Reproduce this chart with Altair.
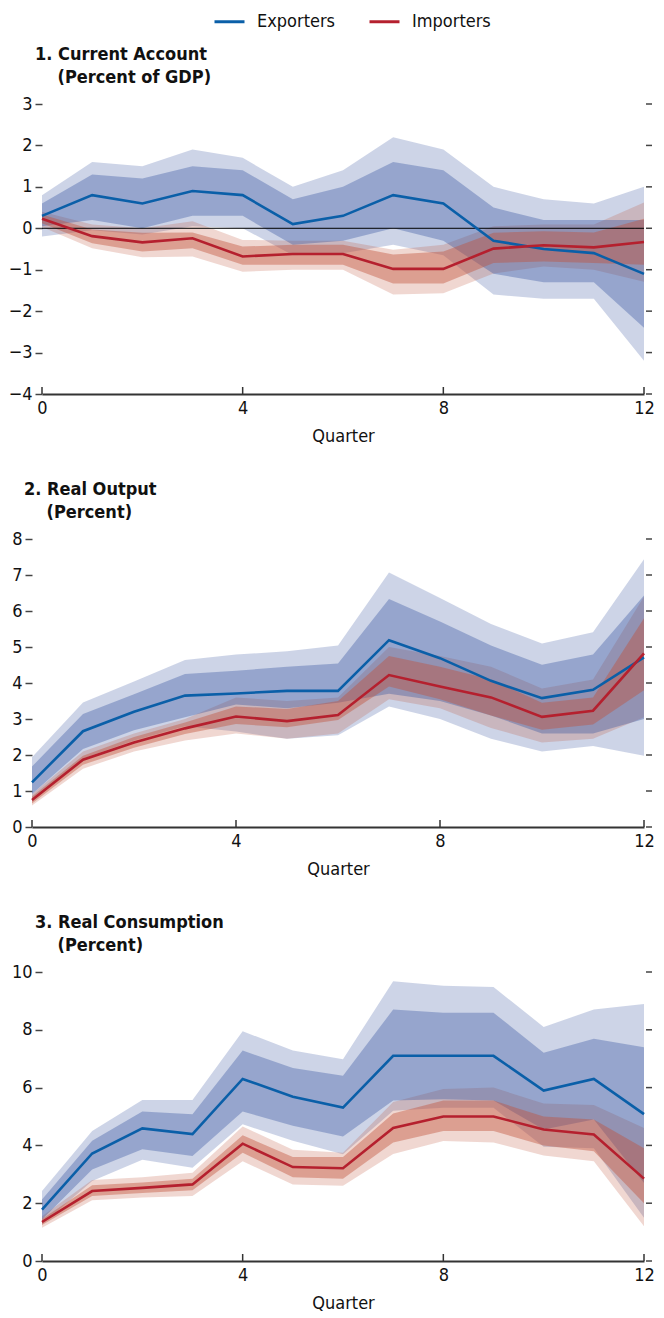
import altair as alt
import pandas as pd

# ---------------- data ----------------
quarters = list(range(13))
series_names = ["Exporters", "Importers"]
x_ticks = [0, 4, 8, 12]

# Panel 1: Current account (percent of GDP)
ca_exp_mid = [0.30, 0.80, 0.60, 0.90, 0.80, 0.10, 0.30, 0.80, 0.60, -0.30, -0.50, -0.60, -1.10]
ca_exp_hi90 = [0.80, 1.60, 1.50, 1.90, 1.70, 1.00, 1.40, 2.20, 1.90, 1.00, 0.70, 0.60, 1.00]
ca_exp_hi68 = [0.60, 1.30, 1.20, 1.50, 1.40, 0.70, 1.00, 1.60, 1.40, 0.50, 0.20, 0.20, 0.20]
ca_exp_lo68 = [0.05, 0.20, 0.00, 0.30, 0.30, -0.40, -0.30, 0.00, -0.30, -1.10, -1.30, -1.30, -2.40]
ca_exp_lo90 = [-0.20, -0.05, -0.15, 0.05, 0.00, -0.65, -0.60, -0.40, -0.65, -1.60, -1.70, -1.70, -3.20]
ca_imp_mid = [0.23, -0.19, -0.34, -0.24, -0.68, -0.62, -0.62, -0.98, -0.98, -0.49, -0.41, -0.46, -0.33]
ca_imp_hi68 = [0.33, -0.03, -0.11, -0.10, -0.44, -0.40, -0.40, -0.63, -0.56, -0.11, -0.07, -0.10, 0.23]
ca_imp_lo68 = [0.12, -0.36, -0.56, -0.48, -0.88, -0.88, -0.88, -1.33, -1.33, -0.84, -0.80, -0.84, -0.88]
ca_imp_hi90 = [0.40, 0.09, 0.00, 0.17, -0.28, -0.30, -0.30, -0.52, -0.40, 0.05, 0.09, 0.09, 0.62]
ca_imp_lo90 = [0.03, -0.48, -0.70, -0.68, -1.05, -1.00, -1.00, -1.60, -1.57, -1.09, -0.92, -1.00, -1.29]
ca_y_ticks = [-4, -3, -2, -1, 0, 1, 2, 3]

# Panel 2: Real output (percent)
out_exp_mid = [1.24, 2.66, 3.20, 3.65, 3.71, 3.78, 3.78, 5.19, 4.69, 4.06, 3.58, 3.81, 4.71]
out_exp_hi90 = [1.94, 3.46, 4.04, 4.64, 4.79, 4.88, 5.04, 7.07, 6.36, 5.64, 5.10, 5.41, 7.44]
out_exp_hi68 = [1.68, 3.14, 3.69, 4.25, 4.34, 4.45, 4.54, 6.33, 5.71, 5.04, 4.51, 4.79, 6.43]
out_exp_lo68 = [0.92, 2.17, 2.69, 3.05, 3.40, 3.30, 3.45, 3.70, 3.50, 3.10, 2.60, 2.60, 3.00]
out_exp_lo90 = [0.70, 1.90, 2.40, 2.80, 2.65, 2.45, 2.55, 3.35, 3.00, 2.45, 2.10, 2.25, 1.98]
out_imp_mid = [0.75, 1.87, 2.35, 2.74, 3.07, 2.94, 3.11, 4.22, 3.90, 3.60, 3.06, 3.23, 4.82]
out_imp_hi68 = [0.85, 1.98, 2.50, 2.90, 3.35, 3.28, 3.50, 4.75, 4.45, 4.10, 3.45, 3.60, 5.80]
out_imp_lo68 = [0.65, 1.73, 2.20, 2.58, 2.86, 2.77, 2.97, 3.90, 3.55, 3.10, 2.70, 2.85, 3.80]
out_imp_hi90 = [0.92, 2.10, 2.60, 3.00, 3.60, 3.50, 3.60, 5.00, 4.75, 4.45, 3.85, 4.10, 6.40]
out_imp_lo90 = [0.60, 1.62, 2.10, 2.40, 2.60, 2.45, 2.60, 3.55, 3.30, 2.75, 2.35, 2.45, 3.05]
out_y_ticks = [0, 1, 2, 3, 4, 5, 6, 7, 8]

# Panel 3: Real consumption (percent)
con_exp_mid = [1.78, 3.72, 4.59, 4.39, 6.30, 5.68, 5.31, 7.10, 7.10, 7.10, 5.90, 6.30, 5.08]
con_exp_hi90 = [2.42, 4.50, 5.57, 5.57, 7.95, 7.28, 6.98, 9.68, 9.52, 9.48, 8.10, 8.70, 8.89]
con_exp_hi68 = [2.13, 4.16, 5.17, 5.08, 7.28, 6.68, 6.41, 8.70, 8.59, 8.59, 7.21, 7.69, 7.40]
con_exp_lo68 = [1.44, 3.17, 3.87, 3.63, 5.17, 4.68, 4.31, 5.55, 5.60, 5.55, 4.55, 4.90, 2.70]
con_exp_lo90 = [1.26, 2.77, 3.50, 3.23, 4.73, 4.16, 3.69, 5.20, 5.30, 5.30, 3.95, 3.90, 1.50]
con_imp_mid = [1.35, 2.42, 2.53, 2.65, 4.06, 3.25, 3.21, 4.60, 5.00, 5.00, 4.55, 4.38, 2.85]
con_imp_hi68 = [1.45, 2.62, 2.72, 2.85, 4.35, 3.60, 3.60, 5.10, 5.55, 5.55, 5.00, 4.90, 3.90]
con_imp_lo68 = [1.25, 2.25, 2.35, 2.45, 3.75, 2.90, 2.85, 4.10, 4.50, 4.50, 4.00, 3.80, 2.00]
con_imp_hi90 = [1.55, 2.80, 2.90, 3.05, 4.65, 3.85, 3.75, 5.50, 5.95, 6.00, 5.45, 5.40, 4.60]
con_imp_lo90 = [1.15, 2.10, 2.20, 2.25, 3.45, 2.65, 2.60, 3.70, 4.15, 4.10, 3.65, 3.45, 1.20]
con_y_ticks = [0, 2, 4, 6, 8, 10]

# ---------------- styling ----------------
FONT = "DejaVu Sans Condensed, Liberation Sans Narrow, sans-serif"
FS = 18
LINE_COLORS = ["#0a5fa8", "#b5202e"]
BAND_BASE = {"Exporters": "#2c4b9c", "Importers": "#c0503a"}
OUTER_OP = {"Exporters": 0.24, "Importers": 0.23}
INNER_OP = {"Exporters": 0.34, "Importers": 0.42}
INDENT = "\u200b" + "\u00a0" * 4


def frame(series, mid, lo68, hi68, lo90, hi90):
    return pd.DataFrame({"q": quarters, "series": series, "mid": mid,
                         "lo68": lo68, "hi68": hi68, "lo90": lo90, "hi90": hi90})


def panel(title_lines, exp_df, imp_df, y_domain, y_ticks, width, height, inset,
          title_dx, zero_line=False):
    df = pd.concat([exp_df, imp_df], ignore_index=True)
    base = alt.Chart(df)
    xaxis = alt.Axis(values=x_ticks, title="Quarter", ticks=False, labelFlush=False,
                     format="d")
    xenc = alt.X("q:Q", scale=alt.Scale(domain=[0, 12], nice=False, zero=False,
                                        range=[inset, width]), axis=xaxis)
    yscale = alt.Scale(domain=y_domain, nice=False, zero=False)
    yaxis = alt.Axis(values=y_ticks, title=None, labelFlush=False, format="d",
                     offset=-inset)

    layers = []
    for band, ops in (("90", OUTER_OP), ("68", INNER_OP)):
        for s in series_names:
            layers.append(
                base.transform_filter(alt.datum.series == s)
                .mark_area(color=BAND_BASE[s], opacity=ops[s])
                .encode(x=xenc,
                        y=alt.Y(f"lo{band}:Q", scale=yscale, axis=yaxis, stack=None),
                        y2=f"hi{band}:Q")
            )
    if zero_line:
        layers.append(
            alt.Chart(pd.DataFrame({"v": [0], "q0": [quarters[0]], "q1": [quarters[-1]]}))
            .mark_rule(color="black", strokeWidth=1)
            .encode(x=xenc, x2="q1:Q", y=alt.Y("v:Q", scale=yscale, axis=yaxis))
            .transform_calculate(q="datum.q0")
        )
    layers.append(
        base.mark_line(strokeWidth=2.6).encode(
            x=xenc,
            y=alt.Y("mid:Q", scale=yscale, axis=yaxis),
            stroke=alt.Stroke("series:N",
                              scale=alt.Scale(domain=series_names, range=LINE_COLORS),
                              legend=alt.Legend(orient="none", legendX=181, legendY=-99,
                                                direction="horizontal", title=None,
                                                symbolType="stroke", symbolSize=900,
                                                symbolStrokeWidth=3, labelFont=FONT,
                                                labelFontSize=FS, labelColor="#111",
                                                labelOffset=11, columnPadding=27,
                                                padding=0)),
            detail="series:N",
        )
    )
    # inward tick marks on the quarter axis
    layers.append(
        alt.Chart(pd.DataFrame({"q": x_ticks})).mark_rule(color="#333", strokeWidth=1.5)
        .encode(x=xenc, y=alt.value(height), y2=alt.value(height - 7))
    )
    # tick marks on the right-hand side
    layers.append(
        alt.Chart(pd.DataFrame({"v": y_ticks})).mark_rule(color="#444", strokeWidth=1.5)
        .encode(y=alt.Y("v:Q", scale=yscale, axis=yaxis),
                x=alt.value(width + 2), x2=alt.value(width + 8))
    )
    return alt.layer(*layers).properties(
        width=width, height=height,
        title=alt.TitleParams(text=title_lines, anchor="start", frame="group", font=FONT,
                              fontSize=FS, fontWeight="bold", color="#111", dx=title_dx,
                              offset=8, lineHeight=23),
    )


p1 = panel(["1. Current Account", INDENT + "(Percent of GDP)"],
           frame("Exporters", ca_exp_mid, ca_exp_lo68, ca_exp_hi68, ca_exp_lo90, ca_exp_hi90),
           frame("Importers", ca_imp_mid, ca_imp_lo68, ca_imp_hi68, ca_imp_lo90, ca_imp_hi90),
           [-4, 3], ca_y_ticks, 612, 290, 10, 3, zero_line=True)
p2 = panel(["2. Real Output", INDENT + "(Percent)"],
           frame("Exporters", out_exp_mid, out_exp_lo68, out_exp_hi68, out_exp_lo90, out_exp_hi90),
           frame("Importers", out_imp_mid, out_imp_lo68, out_imp_hi68, out_imp_lo90, out_imp_hi90),
           [0, 8], out_y_ticks, 612, 288, 0, -8)
p3 = panel(["3. Real Consumption", INDENT + "(Percent)"],
           frame("Exporters", con_exp_mid, con_exp_lo68, con_exp_hi68, con_exp_lo90, con_exp_hi90),
           frame("Importers", con_imp_mid, con_imp_lo68, con_imp_hi68, con_imp_lo90, con_imp_hi90),
           [0, 10], con_y_ticks, 612, 289, 10, 3)

chart = (
    alt.vconcat(p1, p2, p3, spacing=36)
    .properties(padding={"left": 0, "top": -3, "right": 0, "bottom": -1})
    .configure_view(stroke=None)
    .configure_axis(labelFont=FONT, labelFontSize=FS, labelColor="#111",
                    titleFont=FONT, titleFontSize=FS, titleFontWeight="normal",
                    titleColor="#111", grid=False, tickColor="#444", tickWidth=1.5,
                    domainColor="#333")
    .configure_axisX(domainWidth=2, labelPadding=5, titlePadding=10)
    .configure_axisY(domain=False, tickSize=7, labelPadding=3)
)

chart.save("out.html", embed_options={"renderer": "svg", "actions": False})
